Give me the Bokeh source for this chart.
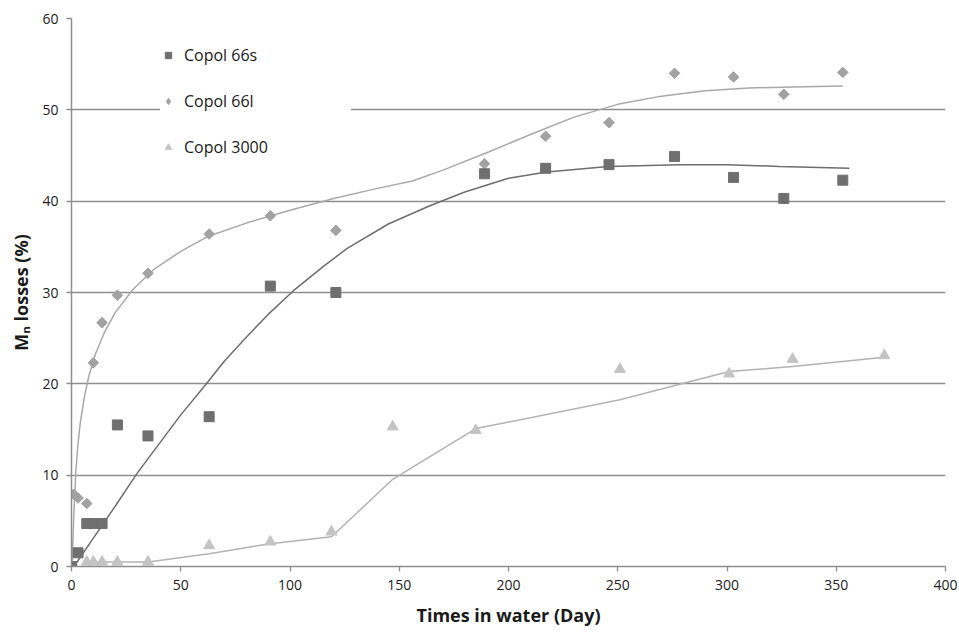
from bokeh.plotting import figure
from bokeh.models import Legend, LegendItem, FixedTicker
from bokeh.embed import file_html
from bokeh.resources import INLINE
import numpy as np
import math

# ---- data ----
days_66s = [0, 3, 7, 10, 14, 21, 35, 63, 91, 121, 189, 217, 246, 276, 303, 326, 353]
loss_66s = [0, 1.5, 4.7, 4.7, 4.7, 15.5, 14.3, 16.4, 30.7, 30.0, 43.0, 43.6, 44.0, 44.9, 42.6, 40.3, 42.3]

days_66l = [0, 1, 3, 7, 10, 14, 21, 35, 63, 91, 121, 189, 217, 246, 276, 303, 326, 353]
loss_66l = [0, 7.9, 7.5, 6.9, 22.3, 26.7, 29.7, 32.1, 36.4, 38.4, 36.8, 44.1, 47.1, 48.6, 54.0, 53.6, 51.7, 54.1]

days_3000 = [0, 7, 10, 14, 21, 35, 63, 91, 119, 147, 185, 251, 301, 330, 372]
loss_3000 = [0, 0.5, 0.5, 0.5, 0.5, 0.5, 2.3, 2.7, 3.8, 15.3, 14.9, 21.6, 21.1, 22.7, 23.1]

# trend curves
trend_66s_days = [0, 2, 10, 20, 30, 40, 50, 61, 70, 80, 90, 101.6, 115, 126, 145, 164, 180, 200,
                  217.5, 245.6, 278, 300, 324, 356]
trend_66s_loss = [0, 0.3, 3.1, 6.6, 10.2, 13.4, 16.6, 19.8, 22.5, 25.1, 27.6, 30.2, 32.8, 34.8,
                  37.5, 39.5, 41.0, 42.5, 43.2, 43.8, 44.0, 44.0, 43.8, 43.6]

trend_66l_days = [0.3, 0.6, 1, 2, 3, 4, 6, 8, 11, 15, 20, 28, 38, 50, 62, 80, 100, 120, 140, 156,
                  170, 190, 210, 230, 250, 270, 290, 310, 330, 353]
trend_66l_loss = [0, 2.5, 5.3, 10.5, 13.5, 15.7, 18.7, 20.9, 23.3, 25.6, 27.8, 30.3, 32.6, 34.5,
                  36.1, 37.6, 39.0, 40.3, 41.4, 42.2, 43.4, 45.3, 47.3, 49.2, 50.6, 51.5, 52.1,
                  52.4, 52.5, 52.6]

# 2-period moving average trendline for Copol 3000
ma_days = days_3000[1:]
ma_loss = [(loss_3000[i - 1] + loss_3000[i]) / 2 for i in range(1, len(loss_3000))]

x_ticks = [0, 50, 100, 150, 200, 250, 300, 350, 400]
y_ticks = [0, 10, 20, 30, 40, 50, 60]
series_names = ["Copol 66s", "Copol 66l", "Copol 3000"]

FONT = "Open Sans"
GRID = "#8e8e8e"
C66S = "#6f6f6f"
C66L = "#a2a2a2"
C3000 = "#c4c4c4"

p = figure(width=959, height=634, x_range=(0, 400), y_range=(0, 60),
           output_backend="svg", toolbar_location=None,
           min_border_left=71, min_border_top=18, min_border_right=14, min_border_bottom=68)
p.outline_line_color = None
p.background_fill_color = "white"
p.border_fill_color = "white"

p.xgrid.grid_line_color = None
p.ygrid.grid_line_color = GRID
p.ygrid.grid_line_width = 1.4

for ax in (p.xaxis, p.yaxis):
    ax.axis_line_color = GRID
    ax.axis_line_width = 1.5
    ax.major_tick_line_color = GRID
    ax.major_tick_line_width = 1.3
    ax.major_tick_out = 5
    ax.major_tick_in = 0
    ax.minor_tick_line_color = None
    ax.major_label_text_font = FONT
    ax.major_label_text_font_size = "14px"
    ax.major_label_text_color = "#222222"
    ax.axis_label_text_font = FONT
    ax.axis_label_text_font_size = "18px"
    ax.axis_label_text_font_style = "bold"
    ax.axis_label_text_color = "#1a1a1a"

p.xaxis.ticker = FixedTicker(ticks=x_ticks)
p.yaxis.ticker = FixedTicker(ticks=y_ticks)
p.xaxis.major_label_standoff = 8
p.yaxis.major_label_standoff = 8
p.xaxis.axis_label_standoff = 10
p.yaxis.axis_label_standoff = 6
p.xaxis.axis_label = "Times in water (Day)"
p.yaxis.axis_label = "M\u2099 losses (%)"

# trend lines
p.line(trend_66l_days, trend_66l_loss, line_color="#a9a9a9", line_width=1.5)
p.line(trend_66s_days, trend_66s_loss, line_color="#6e6e6e", line_width=1.5)
p.line(ma_days, ma_loss, line_color="#b3b3b3", line_width=1.5)

# markers
r3000 = p.scatter(days_3000, loss_3000, marker="triangle", size=11,
                  fill_color=C3000, line_color=C3000)
p.scatter(days_66l, loss_66l, marker="square", angle=math.pi / 4, size=7.5,
          fill_color=C66L, line_color=C66L)
r66s = p.scatter(days_66s, loss_66s, marker="square", size=10,
                 fill_color=C66S, line_color=C66S)
# legend-only glyph for the diamond series (a single non-finite point, never drawn in the plot)
r66l_leg = p.scatter(np.array([np.nan]), np.array([np.nan]), marker="diamond", size=14,
                     fill_color=C66L, line_color=C66L)

legend = Legend(items=[LegendItem(label=series_names[0], renderers=[r66s]),
                       LegendItem(label=series_names[1], renderers=[r66l_leg]),
                       LegendItem(label=series_names[2], renderers=[r3000])],
                location=(89, 408))
legend.label_text_font = FONT
legend.label_text_font_size = "16px"
legend.label_text_color = "#1a1a1a"
legend.glyph_width = 16
legend.glyph_height = 16
legend.label_height = 20
legend.label_width = 167
legend.spacing = 24
legend.padding = 11
legend.margin = 0
legend.label_standoff = 8
legend.border_line_color = None
legend.background_fill_color = "white"
legend.background_fill_alpha = 1.0
p.add_layout(legend)

open("out.html", "w").write(file_html(p, INLINE))
